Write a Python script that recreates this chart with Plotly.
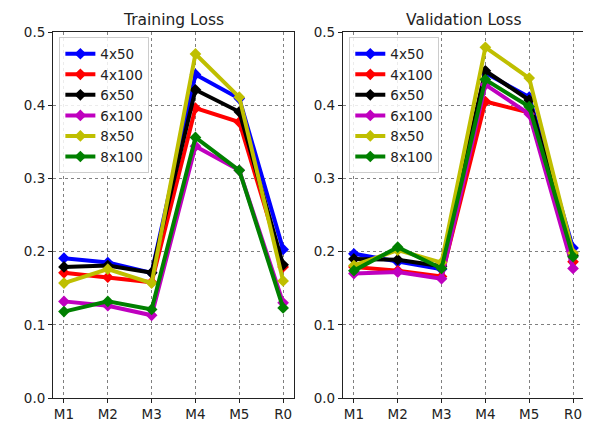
import plotly.graph_objects as go

categories = ["M1", "M2", "M3", "M4", "M5", "R0"]
series_names = ["4x50", "4x100", "6x50", "6x100", "8x50", "8x100"]
colors = ["#0000ff", "#ff0000", "#000000", "#bf00bf", "#bfbf00", "#008000"]

train_4x50 = [0.191, 0.185, 0.171, 0.442, 0.409, 0.203]
train_4x100 = [0.171, 0.165, 0.158, 0.396, 0.377, 0.179]
train_6x50 = [0.179, 0.181, 0.171, 0.421, 0.391, 0.182]
train_6x100 = [0.132, 0.126, 0.113, 0.344, 0.311, 0.130]
train_8x50 = [0.157, 0.176, 0.157, 0.470, 0.411, 0.160]
train_8x100 = [0.118, 0.132, 0.121, 0.356, 0.311, 0.123]

val_4x50 = [0.197, 0.186, 0.176, 0.444, 0.411, 0.205]
val_4x100 = [0.179, 0.174, 0.166, 0.405, 0.390, 0.186]
val_6x50 = [0.190, 0.189, 0.180, 0.447, 0.407, 0.195]
val_6x100 = [0.170, 0.172, 0.163, 0.428, 0.388, 0.177]
val_8x50 = [0.181, 0.202, 0.185, 0.479, 0.437, 0.198]
val_8x100 = [0.174, 0.206, 0.177, 0.435, 0.398, 0.193]

train = [train_4x50, train_4x100, train_6x50, train_6x100, train_8x50, train_8x100]
val = [val_4x50, val_4x100, val_6x50, val_6x100, val_8x50, val_8x100]

fig = go.Figure()
for i, name in enumerate(series_names):
    fig.add_trace(go.Scatter(
        x=categories, y=train[i], name=name, mode="lines+markers",
        line=dict(color=colors[i], width=4),
        marker=dict(symbol="diamond", size=9, color=colors[i]),
        xaxis="x", yaxis="y", legend="legend"))
for i, name in enumerate(series_names):
    fig.add_trace(go.Scatter(
        x=categories, y=val[i], name=name, mode="lines+markers",
        line=dict(color=colors[i], width=4),
        marker=dict(symbol="diamond", size=9, color=colors[i]),
        xaxis="x2", yaxis="y2", legend="legend2"))

axis_common = dict(
    showline=True, linecolor="#222", linewidth=1, mirror=True,
    showgrid=True, gridcolor="#808080", gridwidth=1, griddash="dot",
    ticks="outside", ticklen=4, tickcolor="#222",
    tickfont=dict(size=13.5, color="#222", family="DejaVu Sans"),
    zeroline=False,
)
xr = [-0.25, 5.25]
yax = dict(axis_common, range=[0, 0.5], tickvals=[0, 0.1, 0.2, 0.3, 0.4, 0.5],
           tickformat=".1f")

legend_common = dict(
    bgcolor="rgba(255,255,255,0.85)", bordercolor="#cccccc", borderwidth=1,
    font=dict(size=13.5, color="#222", family="DejaVu Sans"),
    yanchor="top", xanchor="left", tracegroupgap=0, itemwidth=30,
)

fig.update_layout(
    width=591, height=426,
    margin=dict(l=45, r=15, t=24, b=25),
    plot_bgcolor="white", paper_bgcolor="white",
    font=dict(family="DejaVu Sans", color="#222"),
    xaxis=dict(axis_common, domain=[0, 0.454], range=xr, type="category"),
    yaxis=dict(yax, anchor="x"),
    xaxis2=dict(axis_common, domain=[0.546, 1], range=xr, type="category", anchor="y2"),
    yaxis2=dict(yax, anchor="x2"),
    legend=dict(legend_common, x=0.012, y=0.985),
    legend2=dict(legend_common, x=0.558, y=0.985),
    annotations=[
        dict(text="Training Loss", x=0.227, y=1, xref="paper", yref="paper",
             xanchor="center", yanchor="bottom", yshift=1, showarrow=False,
             font=dict(size=15.5, color="#222")),
        dict(text="Validation Loss", x=0.773, y=1, xref="paper", yref="paper",
             xanchor="center", yanchor="bottom", yshift=1, showarrow=False,
             font=dict(size=15.5, color="#222")),
    ],
)

fig.write_html("out.html")
